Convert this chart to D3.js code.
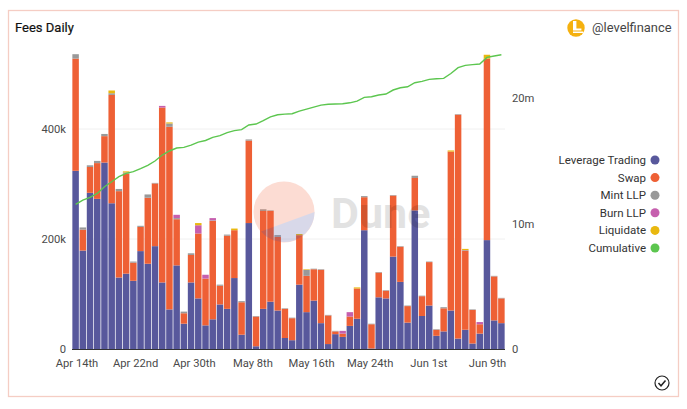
<!DOCTYPE html>
<html>

<head>
    <meta charset="UTF-8" />
    <script src="https://cdn.jsdelivr.net/npm/d3@7"></script>
    <style>
        body { margin: 0; background: #fff; }
        text { font-family: Roboto, sans-serif; }
    </style>
</head>

<body>
    <svg id="chart" width="687" height="409"></svg>

    <script>
        // daily values, thousands of USD
        var leverage = [324, 179, 284, 273, 339, 265, 130, 137, 124, 178, 155, 187, 121, 72, 152, 46, 121, 92, 43, 54,
            81, 73, 129, 26, 229, 5, 73, 86, 70, 20, 16, 117, 67, 88, 47, 9, 27, 22, 42, 55,
            216, 1, 94, 92, 168, 122, 48, 252, 60, 79, 24, 32, 70, 19, 35, 10, 28, 198, 52, 47];
        var swap = [204, 38, 47, 65, 48, 197, 157, 182, 33, 44, 120, 114, 318, 332, 84, 19, 50, 118, 85, 179,
            34, 133, 87, 59, 150, 54, 178, 165, 134, 53, 40, 90, 66, 57, 97, 52, 5, 6, 17, 55,
            60, 44, 45, 14, 111, 64, 30, 59, 36, 79, 11, 42, 289, 407, 144, 61, 17, 330, 80, 45];
        var mint = [8, 4, 3, 4, 4, 3, 4, 2, 2, 2, 6, 1, 0, 6, 2, 3, 3, 0, 0, 1,
            2, 2, 0, 2, 2, 1, 3, 1, 3, 1, 1, 0, 11, 1, 1, 1, 1, 0, 0, 0,
            2, 1, 1, 1, 1, 1, 1, 4, 1, 1, 1, 2, 0, 1, 1, 1, 0, 0, 1, 1];
        var burn = [0, 0, 0, 0, 0, 0, 0, 0, 0, 0, 0, 0, 3, 0, 6, 0, 0, 15, 7, 4,
            0, 0, 0, 0, 0, 0, 0, 0, 0, 0, 0, 0, 0, 0, 0, 0, 0, 5, 8, 0,
            0, 0, 0, 0, 0, 0, 0, 0, 0, 0, 0, 0, 0, 0, 0, 0, 4, 0, 0, 0];
        var liquidate = [0, 0, 0, 0, 0, 5, 0, 2, 0, 0, 0, 0, 0, 2, 0, 0, 0, 4, 0, 0,
            0, 0, 3, 0, 0, 0, 0, 0, 0, 0, 0, 2, 1, 0, 0, 0, 0, 0, 0, 2,
            0, 0, 0, 0, 0, 0, 0, 0, 0, 0, 0, 0, 2, 0, 2, 0, 0, 7, 0, 0];
        // millions of USD
        var cumulative = [11.53, 11.87, 12.08, 12.4, 12.93, 13.33, 13.73, 14.0, 14.13, 14.37, 14.63, 14.98, 15.46, 15.78, 16.02, 16.07, 16.25, 16.49, 16.62, 16.87,
            17.0, 17.24, 17.4, 17.48, 17.85, 17.93, 18.2, 18.5, 18.67, 18.72, 18.75, 18.96, 19.12, 19.28, 19.44, 19.5, 19.52, 19.55, 19.62, 19.76,
            20.05, 20.1, 20.24, 20.32, 20.64, 20.82, 20.9, 21.22, 21.33, 21.49, 21.54, 21.57, 21.96, 22.42, 22.6, 22.66, 22.71, 23.24, 23.35, 23.45];

        var dateLabels = ["Apr 14th", "Apr 22nd", "Apr 30th", "May 8th", "May 16th", "May 24th", "Jun 1st", "Jun 9th"];
        var leftTicks = [0, 200, 400];
        var rightTicks = [0, 10, 20];
        var seriesNames = ["Leverage Trading", "Swap", "Mint LLP", "Burn LLP", "Liquidate", "Cumulative"];
        var seriesColors = ["#58589c", "#ee6035", "#999999", "#c65fae", "#e9b80f", "#5cc64f"];

        var svg = d3.select("#chart");

        // outer frame
        svg.append("rect").attr("x", 8.5).attr("y", 10.5).attr("width", 670).attr("height", 386)
            .attr("fill", "#fff").attr("stroke", "#f5cdc4").attr("stroke-width", 1.3);

        svg.append("text").attr("x", 15).attr("y", 32).text("Fees Daily")
            .attr("font-size", 13).attr("font-weight", 400).attr("stroke", "#111").attr("stroke-width", 0.2)
            .attr("fill", "#111");

        // scales
        var days = d3.range(leverage.length);
        var x = d3.scaleBand().domain(days).range([72, 505]).paddingInner(0.1).paddingOuter(0.05);
        var yLeft = d3.scaleLinear().domain([0, 600]).range([349, 19]);
        var yRight = d3.scaleLinear().domain([0, 26.3]).range([349, 19]);
        var xLabels = d3.scalePoint().domain(dateLabels).range([76.5, 487]);

        // grid
        svg.append("g").selectAll("line").data(leftTicks.slice(1)).join("line")
            .attr("x1", 72).attr("x2", 505)
            .attr("y1", d => yLeft(d)).attr("y2", d => yLeft(d))
            .attr("stroke", "#f0f0f0");

        // stacked bars
        var rows = days.map(i => ({
            i: i,
            leverage: leverage[i],
            swap: swap[i],
            mint: mint[i],
            burn: burn[i],
            liquidate: liquidate[i]
        }));
        var stacked = d3.stack().keys(["leverage", "swap", "mint", "burn", "liquidate"])(rows);

        svg.append("g").selectAll("g").data(stacked).join("g")
            .attr("fill", (d, i) => seriesColors[i])
            .selectAll("rect").data(d => d).join("rect")
            .attr("x", d => x(d.data.i))
            .attr("width", x.bandwidth())
            .attr("y", d => yLeft(d[1]))
            .attr("height", d => yLeft(d[0]) - yLeft(d[1]));

        // cumulative line
        var line = d3.line()
            .x((d, i) => x(i) + x.bandwidth() / 2)
            .y(d => yRight(d));
        svg.append("path").datum(cumulative).attr("d", line)
            .attr("fill", "none").attr("stroke", seriesColors[5]).attr("stroke-width", 1.4);

        // axes
        var leftAxis = d3.axisLeft(yLeft).tickValues(leftTicks).tickSize(0).tickPadding(6)
            .tickFormat(d => d === 0 ? "0" : d + "k");
        var rightAxis = d3.axisRight(yRight).tickValues(rightTicks).tickSize(0).tickPadding(7)
            .tickFormat(d => d === 0 ? "0" : d + "m");
        var bottomAxis = d3.axisBottom(xLabels).tickSize(0).tickPadding(10);

        svg.append("g").attr("transform", "translate(72,0)").call(leftAxis).call(styleAxis);
        svg.append("g").attr("transform", "translate(505,0)").call(rightAxis).call(styleAxis);
        svg.append("g").attr("transform", "translate(0,349)").call(bottomAxis).call(styleAxis);

        function styleAxis(g) {
            g.select(".domain").remove();
            g.selectAll("text").attr("font-size", 11.2).attr("fill", "#4a4a4a")
                .style("font-family", "Roboto, sans-serif");
        }

        svg.append("line").attr("x1", 72).attr("x2", 505).attr("y1", 349.5).attr("y2", 349.5)
            .attr("stroke", "#333");

        // legend
        var legendY = d3.scalePoint().domain(seriesNames).range([160, 248]);
        var legend = svg.append("g").selectAll("g").data(seriesNames).join("g")
            .attr("transform", d => `translate(0,${legendY(d)})`);
        legend.append("text").attr("x", 646).attr("dy", "0.35em").attr("text-anchor", "end")
            .attr("font-size", 11.5).attr("fill", "#333").text(d => d);
        legend.append("circle").attr("cx", 655).attr("r", 4.5)
            .attr("fill", (d, i) => seriesColors[i]);

        // handle and logo
        svg.append("circle").attr("cx", 576).attr("cy", 28).attr("r", 8.7).attr("fill", "#f5b10f");
        svg.append("path").attr("d", "M573 21h3.4v7.5h5v2h-8.4z M573 31.4h10v1.6h-10z").attr("fill", "#fff");
        svg.append("text").attr("x", 592).attr("y", 32).text("@levelfinance")
            .attr("font-size", 12.9).attr("fill", "#444");

        // watermark
        var mark = svg.append("g").attr("opacity", 0.22);
        mark.append("circle").attr("cx", 284).attr("cy", 212).attr("r", 30.5).attr("fill", "#f4633a");
        mark.append("path").attr("d", "M314.5 212 A30.5 30.5 0 0 1 261 231.6 Z").attr("fill", "#5254a0");
        svg.append("text").attr("x", 331).attr("y", 228).text("Dune")
            .attr("font-size", 43).attr("font-weight", 700).attr("fill", "#000").attr("opacity", 0.11);

        // check icon
        svg.append("circle").attr("cx", 662).attr("cy", 383).attr("r", 7)
            .attr("fill", "none").attr("stroke", "#222").attr("stroke-width", 1.2);
        svg.append("path").attr("d", "M658.5 383l2.5 2.8l4.5-5.3")
            .attr("fill", "none").attr("stroke", "#222").attr("stroke-width", 1.5);
    </script>
</body>

</html>
